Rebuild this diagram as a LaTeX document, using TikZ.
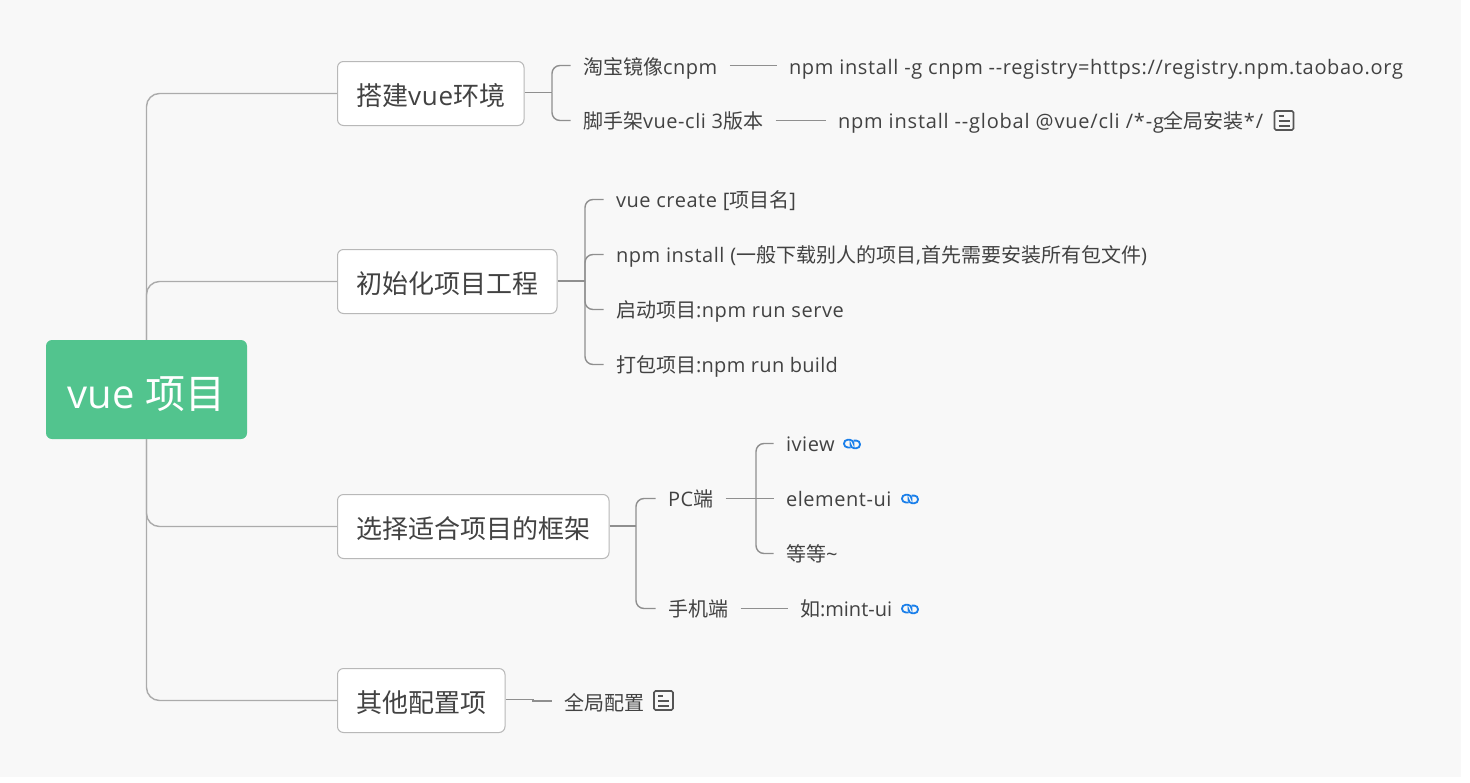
\documentclass[tikz,border=0pt]{standalone}
\usepackage{fontspec}
\setmainfont[LetterSpace=2.8]{Open Sans}
\newfontfamily\cjk{Noto Sans CJK SC}
\newfontfamily\plainf{Open Sans}
\newfontfamily\widea[LetterSpace=3.3]{Open Sans}
\newfontfamily\wideb[LetterSpace=4.0]{Open Sans}
\newfontfamily\narrowf[LetterSpace=1.6]{Open Sans}
\newcommand{\zh}[1]{{\cjk #1}}
\definecolor{bgc}{HTML}{F8F8F8}
\definecolor{txt}{HTML}{424242}
\definecolor{rootc}{HTML}{52C48E}
\definecolor{edgea}{HTML}{ABABAB}
\definecolor{edgeb}{HTML}{8F8F8F}
\definecolor{boxl}{HTML}{B8B8B8}
\definecolor{linkc}{HTML}{1A7FEA}
\definecolor{notec}{HTML}{555555}
\tikzset{
  rootnode/.style={fill=rootc,rounded corners=6pt,text=white,minimum width=201pt,minimum height=99pt,inner sep=0pt,text height=38pt,text depth=0pt,font=\plainf\fontsize{40}{44}\selectfont},
  topicbox/.style={draw=boxl,line width=1pt,fill=white,rounded corners=6pt,text=txt,minimum height=64pt,inner sep=0pt,anchor=west,text height=26pt,text depth=2pt,font=\fontsize{26}{30}\selectfont},
  leaf/.style={text=txt,inner sep=0pt,outer xsep=12.5pt,anchor=west,yshift=0.5pt,text height=19pt,text depth=3pt,font=\fontsize{20}{24}\selectfont},
  lowleaf/.style={leaf,text height=21pt},
  trunk/.style={draw=edgea,line width=1.4pt,rounded corners=13pt},
  branch/.style={draw=edgeb,line width=1.4pt,rounded corners=8pt},
  thin/.style={draw=edgeb,line width=1.2pt},
  pics/noteicon/.style={code={
    \draw[notec,line width=1.6pt,rounded corners=1.5pt] (0,0) rectangle (19,19);
    \draw[notec,line width=1.2pt] (4,5)--(9,5) (4,10)--(15,10) (4,15)--(15,15);
  }},
  pics/linkicon/.style={code={
    \draw[linkc,line width=1.8pt,rounded corners=3.6pt] (10,-1.5) -- (10,-4.2) -- (0.5,-4.2) -- (0.5,3.4) -- (7,3.4);
    \draw[linkc,line width=1.8pt,rounded corners=3.6pt] (7,1.5) -- (7,4.2) -- (16.5,4.2) -- (16.5,-3.4) -- (10,-3.4);
  }}
}
\begin{document}
\begin{tikzpicture}[x=1pt,y=-1pt]
\useasboundingbox (0,0) rectangle (1470,782);
\fill[white] (0,0) rectangle (1470,782);
\fill[bgc] (0,0) rectangle (1461,777);

\node[rootnode] (root) at (146.5,389.5) {vue \zh{项目}};

\node[topicbox,minimum width=186.5pt] (b1) at (337,93.5) {\zh{搭建}vue\zh{环境}};
\node[topicbox,minimum width=219.5pt] (b2) at (337,281.5) {\zh{初始化项目工程}};
\node[topicbox,minimum width=271.5pt] (b3) at (337,526.5) {\zh{选择适合项目的框架}};
\node[topicbox,minimum width=167.5pt] (b4) at (337,700.5) {\zh{其他配置项}};

% level 2
\node[lowleaf] (a1) at (570.5,66) {\zh{淘宝镜像}cnpm};
\node[leaf] (a2) at (570.5,121) {\zh{脚手架}vue-cli 3\zh{版本}};
\node[lowleaf] (a1v) at (776.5,66) {\widea npm install -g cnpm {-}{-}registry=https://registry.npm.taobao.org};
\node[leaf] (a2v) at (825.5,121) {\wideb npm install {-}{-}global @vue/cli /*-g\zh{全局安装}*/};

\node[leaf] (c1) at (603.5,200) {vue create [\zh{项目名}]};
\node[leaf] (c2) at (603.5,255) {npm install (\zh{一般下载别人的项目},\zh{首先需要安装所有包文件})};
\node[leaf] (c3) at (603.5,310) {\zh{启动项目}:npm run serve};
\node[leaf] (c4) at (603.5,365) {\narrowf\zh{打包项目}:npm run build};

\node[leaf] (d1) at (655.5,499) {PC\zh{端}};
\node[leaf] (d2) at (655.5,609) {\zh{手机端}};
\node[leaf] (e1) at (773.5,444) {iview};
\node[leaf] (e2) at (773.5,499) {element-ui};
\node[leaf] (e3) at (773.5,554) {\zh{等等}\textasciitilde};
\node[leaf] (e4) at (787.5,609) {\plainf\zh{如}:mint-ui};

\node[lowleaf] (f1) at (551.5,701.5) {\zh{全局配置}};

% trunk connectors
\draw[trunk] (root.north) |- (b1.west);
\draw[trunk] (root.north) |- (b2.west);
\draw[trunk] (root.south) |- (b3.west);
\draw[trunk] (root.south) |- (b4.west);

% branches
\coordinate (j1) at (552,92.5);
\coordinate (j2) at (585,281);
\coordinate (j3) at (636,526);
\coordinate (j4) at (756,498.5);
\coordinate (j5) at (533,699.5);
\coordinate (j6) at (533,701);
\draw[branch] ([yshift=1pt]b1.east) -- (j1);
\draw[branch] (j1) |- (a1.west);
\draw[branch] (j1) |- (a2.west);
\draw[branch] ([yshift=0.5pt]b2.east) -- (j2);
\draw[branch] (j2) |- (c1.west);
\draw[branch] (j2) |- (c2.west);
\draw[branch] (j2) |- (c3.west);
\draw[branch] (j2) |- (c4.west);
\draw[branch] ([yshift=0.5pt]b3.east) -- (j3);
\draw[branch] (j3) |- (d1.west);
\draw[branch] (j3) |- (d2.west);
\draw[branch] (d1.east) -- (e2.west);
\draw[branch] (j4) |- (e1.west);
\draw[branch] (j4) |- (e3.west);
\draw[thin] (a1.east) -- (a1v.west);
\draw[thin] (a2.east) -- (a2v.west);
\draw[thin] (d2.east) -- (e4.west);
\draw[thin] ([yshift=1pt]b4.east) -- (j5) -- (j6) -- (f1.west);

% icons
\pic at (1274.5,111) {noteicon};
\pic at (654,691) {noteicon};
\pic at (843.5,444) {linkicon};
\pic at (901.5,499) {linkicon};
\pic at (901.5,609) {linkicon};
\end{tikzpicture}
\end{document}
